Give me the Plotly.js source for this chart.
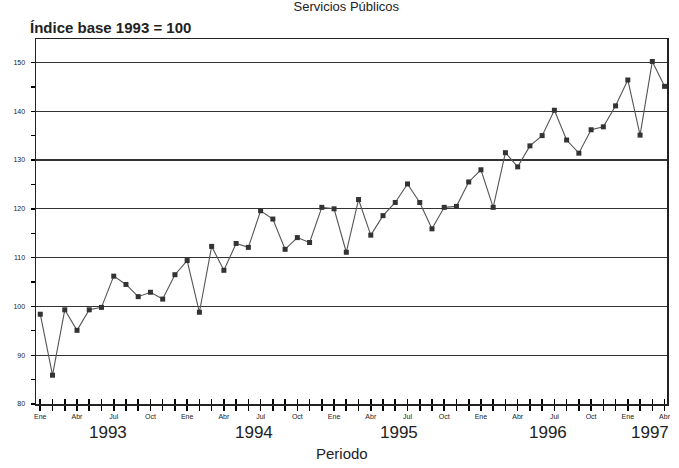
<!DOCTYPE html>
<html>
<head>
<meta charset="utf-8">
<script src="https://cdn.plot.ly/plotly-3.0.1.min.js"></script>
<style>html,body{margin:0;padding:0;background:#fff;}#chart{width:679px;height:468px;}</style>
</head>
<body>
<div id="chart"></div>
<script>
// Data
const monthNames = ["Ene","Feb","Mar","Abr","May","Jun","Jul","Ago","Sep","Oct","Nov","Dic"];
const years = ["1993","1994","1995","1996","1997"];
const values1993 = [98.4, 85.9, 99.3, 95.1, 99.3, 99.8, 106.2, 104.5, 102.0, 102.9, 101.5, 106.5];
const values1994 = [109.4, 98.8, 112.3, 107.4, 112.9, 112.1, 119.6, 117.9, 111.7, 114.1, 113.1, 120.3];
const values1995 = [120.0, 111.1, 121.9, 114.6, 118.6, 121.3, 125.1, 121.3, 115.9, 120.3, 120.5, 125.5];
const values1996 = [128.0, 120.3, 131.5, 128.6, 132.9, 135.0, 140.2, 134.1, 131.4, 136.2, 136.8, 141.1];
const values1997 = [146.4, 135.1, 150.2, 145.1];
const quarterLabels = ["Ene","Abr","Jul","Oct"];
const yearLabelPos = [5.5, 17.5, 29.3, 41.5, 49.8];

const series = [values1993, values1994, values1995, values1996, values1997];
const cats = [], vals = [];
series.forEach((arr, yi) => arr.forEach((v, mi) => { cats.push(monthNames[mi] + " " + years[yi]); vals.push(v); }));

const tickText = cats.map(c => { const m = c.split(" ")[0]; return quarterLabels.includes(m) ? m : " "; });

const font = "Liberation Sans, Arial, sans-serif";

const data = [{
  x: cats, y: vals, type: "scatter", mode: "lines+markers",
  line: {color: "#555", width: 1.1},
  marker: {symbol: "square", size: 5, color: "#333"},
  hoverinfo: "skip"
}, {
  x: cats, y: cats.map(() => null), xaxis: "x2", yaxis: "y", type: "scatter", mode: "markers",
  hoverinfo: "skip", showlegend: false
}];

const annotations = years.map((yr, i) => ({
  text: yr, x: yearLabelPos[i], xref: "x", y: 0, yref: "paper",
  yanchor: "middle", yshift: -28, showarrow: false,
  font: {family: font, size: 17, color: "#222"}
}));
annotations.push({
  text: "Periodo", x: 0.485, xref: "paper", y: 0, yref: "paper",
  yanchor: "middle", yshift: -49, showarrow: false,
  font: {family: font, size: 15, color: "#222"}
});
annotations.push({
  text: "<b>Índice base 1993 = 100</b>", x: 0, xref: "paper", xanchor: "left", xshift: -8,
  y: 1, yref: "paper", yanchor: "middle", yshift: 12, showarrow: false,
  font: {family: font, size: 15, color: "#222"}
});

const layout = {
  width: 679, height: 468,
  margin: {l: 36, r: 12, t: 39, b: 64},
  paper_bgcolor: "#fff", plot_bgcolor: "#fff",
  showlegend: false,
  title: {text: "Servicios Públicos", x: 0.51, xanchor: "center", y: 0.995, yref: "container", yanchor: "top",
          font: {family: font, size: 13, color: "#222"}},
  xaxis: {
    type: "category", range: [-0.35, 51.2],
    tickmode: "array", tickvals: cats, ticktext: tickText,
    ticks: "outside", ticklen: 5, tickcolor: "#000", tickwidth: 1.6,
    tickfont: {family: font, size: 7, color: "#222"},
    showgrid: false, showline: true, linecolor: "#222", linewidth: 1.5, mirror: true,
    tickangle: 0, zeroline: false
  },
  xaxis2: {
    type: "category", overlaying: "x", range: [-0.35, 51.2],
    tickmode: "array", tickvals: cats, ticktext: cats.map(() => " "),
    ticks: "inside", ticklen: 5, tickcolor: "#000", tickwidth: 1.6,
    showgrid: false, showline: false, side: "bottom", anchor: "y", showticklabels: false
  },
  yaxis: {
    range: [80, 154.8], tickmode: "linear", tick0: 80, dtick: 10,
    ticks: "outside", ticklen: 4, tickcolor: "#000", tickwidth: 1.4,
    ticklabelstandoff: 4,
    tickfont: {family: font, size: 7, color: "#222"},
    showgrid: true, gridcolor: "#333", gridwidth: 1.3,
    showline: true, linecolor: "#222", linewidth: 1.5, mirror: true,
    zeroline: false,
    minor: {dtick: 5, tick0: 80, ticks: "outside", ticklen: 4, tickwidth: 1.4, tickcolor: "#000", showgrid: false}
  },
  annotations: annotations
};

Plotly.newPlot("chart", data, layout, {staticPlot: true});
</script>
</body>
</html>
